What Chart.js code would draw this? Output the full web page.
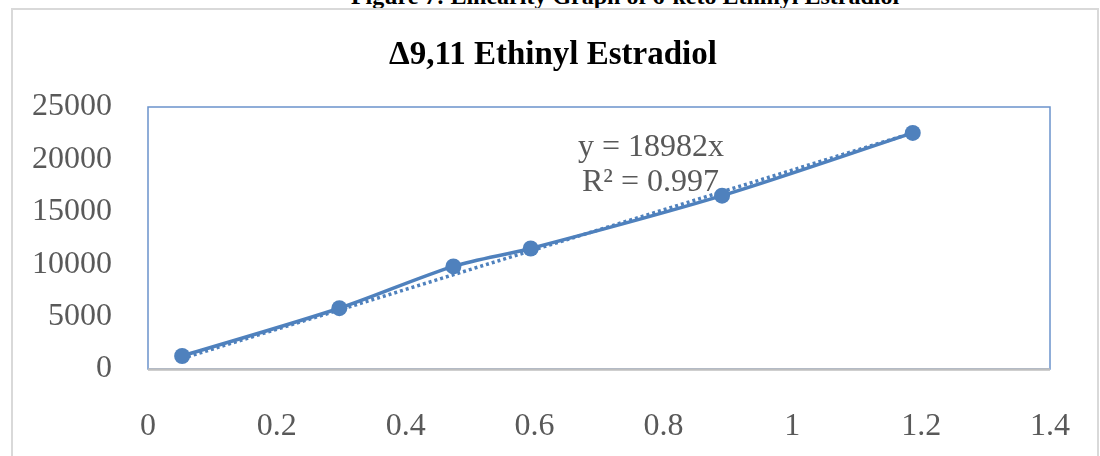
<!DOCTYPE html>
<html>
<head>
<meta charset="utf-8">
<script src="https://cdn.jsdelivr.net/npm/chart.js@4.4.1/dist/chart.umd.min.js"></script>
<style>
  html, body { margin: 0; padding: 0; background: #fff; }
  .page { position: relative; width: 1100px; height: 456px; overflow: hidden; }
  .caption {
    position: absolute; left: 75px; width: 1100px; top: -17px;
    text-align: center; line-height: 24px;
    font: bold 24px "Liberation Serif", "Times New Roman", serif; color: #000;
  }
  .frame {
    position: absolute; left: 11px; top: 8px; width: 1088px; height: 470px;
    border: 2px solid #d9d9d9; box-sizing: border-box;
  }
  canvas { position: absolute; left: 0; top: 0; }
</style>
</head>
<body>
<div class="page">
  <div class="caption">Figure 7: Linearity Graph of 6-keto Ethinyl Estradiol</div>
  <div class="frame"></div>
  <canvas id="chart" width="1100" height="456"></canvas>
</div>
<script>
// concentration (x) and peak area (y)
const concentration = [0.053, 0.297, 0.474, 0.594, 0.891, 1.187];
const peakArea = [1240, 5800, 9790, 11500, 16540, 22530];

// linear trendline through origin, as printed on the chart
const slope = 18982;
const rSquared = 0.997;

const chartTitle = "Δ9,11 Ethinyl Estradiol";
const xTicks = { min: 0, max: 1.4, step: 0.2 };
const yTicks = { min: 0, max: 25000, step: 5000 };

const BLUE = "#4f81bd";
const GREY_TEXT = "#595959";
const SERIF = "'Liberation Serif', 'Times New Roman', serif";

(() => {
  const points = concentration.map((x, i) => ({ x, y: peakArea[i] }));
  const xFirst = concentration[0];
  const xLast = concentration[concentration.length - 1];
  const trend = [
    { x: xFirst, y: slope * xFirst },
    { x: xLast, y: slope * xLast }
  ];

  // plot-area frame: blue box, grey bottom axis
  const frame = {
    id: "frame",
    beforeDatasetsDraw(chart) {
      const { ctx, chartArea: a } = chart;
      ctx.save();
      ctx.strokeStyle = "#6b93cc";
      ctx.lineWidth = 1.5;
      ctx.strokeRect(a.left, a.top, a.right - a.left, a.bottom - a.top);
      ctx.strokeStyle = "#bfbfbf";
      ctx.lineWidth = 2.5;
      ctx.beginPath();
      ctx.moveTo(a.left, a.bottom + 0.5);
      ctx.lineTo(a.right, a.bottom + 0.5);
      ctx.stroke();
      ctx.restore();
    }
  };

  // chart title (centred on the whole chart box, not the canvas) + trendline label
  const labels = {
    id: "labels",
    afterDraw(chart) {
      const { ctx } = chart;
      ctx.save();
      ctx.font = `bold 33px ${SERIF}`;
      ctx.fillStyle = "#000";
      ctx.textAlign = "center";
      ctx.textBaseline = "middle";
      ctx.fillText(chartTitle, 553, 55);

      ctx.font = `32px ${SERIF}`;
      ctx.fillStyle = GREY_TEXT;
      ctx.textAlign = "left";
      ctx.textBaseline = "alphabetic";
      ctx.fillText(`y = ${slope}x`, 578, 156);
      ctx.fillText(`R² = ${rSquared}`, 582, 191);
      ctx.restore();
    }
  };

  new Chart(document.getElementById("chart"), {
    type: "scatter",
    data: {
      datasets: [
        {
          label: "Linear",
          data: trend,
          showLine: true,
          borderColor: BLUE,
          borderWidth: 3.5,
          borderDash: [3, 3],
          pointRadius: 0,
          order: 2
        },
        {
          label: "Peak area",
          data: points,
          showLine: true,
          tension: 0.3,
          borderColor: BLUE,
          backgroundColor: BLUE,
          borderWidth: 3.5,
          pointRadius: 8,
          pointBorderWidth: 0,
          order: 1
        }
      ]
    },
    options: {
      responsive: false,
      animation: false,
      layout: { padding: { left: 0, right: 50, top: 107, bottom: 0 } },
      plugins: {
        legend: { display: false },
        tooltip: { enabled: false },
        title: { display: false }
      },
      scales: {
        x: {
          type: "linear",
          min: xTicks.min,
          max: xTicks.max,
          grid: { display: false },
          border: { display: false },
          ticks: {
            stepSize: xTicks.step,
            color: GREY_TEXT,
            padding: 30,
            maxRotation: 0,
            font: { family: SERIF, size: 32 },
            callback: v => String(+v.toFixed(1))
          },
          afterFit: s => { s.height = 87; }
        },
        y: {
          min: yTicks.min,
          max: yTicks.max,
          grid: { display: false },
          border: { display: false },
          ticks: {
            stepSize: yTicks.step,
            color: GREY_TEXT,
            padding: 28,
            font: { family: SERIF, size: 32 },
            callback: v => String(v)
          },
          afterFit: s => { s.width = 148; }
        }
      }
    },
    plugins: [frame, labels]
  });
})();
</script>
</body>
</html>
